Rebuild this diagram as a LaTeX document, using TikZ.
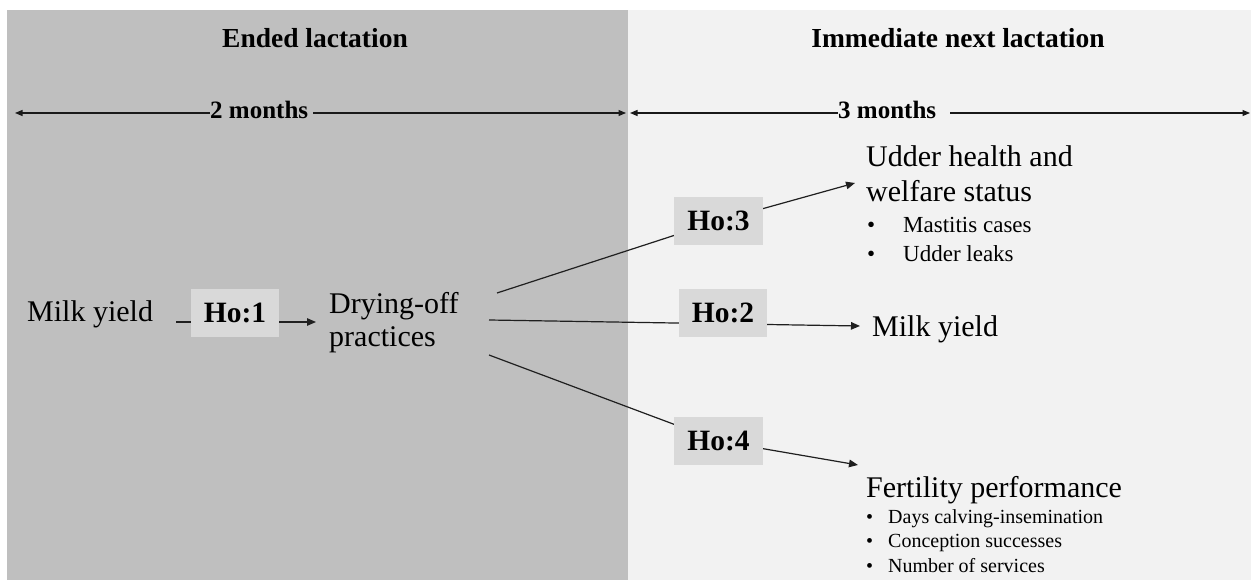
\documentclass[tikz,border=0pt]{standalone}
\usepackage{fontspec}
\setmainfont{Liberation Serif}
\usetikzlibrary{arrows.meta,calc}
\pgfdeclarelayer{bg}
\pgfdeclarelayer{ln}
\pgfsetlayers{bg,ln,main}
\definecolor{panelL}{HTML}{BFBFBF}
\definecolor{panelR}{HTML}{F2F2F2}
\definecolor{hobox}{HTML}{D9D9D9}
\begin{document}
\begin{tikzpicture}[x=1pt,y=-1pt,
  txt/.style={inner sep=0pt, font=\fontsize{30}{35}\selectfont},
  drytxt/.style={inner sep=0pt, font=\fontsize{30}{33}\selectfont},
  hd/.style={inner sep=0pt, font=\bfseries\fontsize{27.5}{30}\selectfont},
  tl/.style={inner sep=0pt, font=\bfseries\fontsize{25}{30}\selectfont},
  ho/.style={fill=hobox, minimum width=88pt, minimum height=48pt, inner sep=0pt, font=\bfseries\fontsize{29.5}{34}\selectfont},
  bulA/.style={inner sep=0pt, font=\fontsize{23}{29}\selectfont},
  bulB/.style={inner sep=0pt, font=\fontsize{20}{24.5}\selectfont},
  conn/.style={line width=1.2pt, draw=black!88},
  arr/.style={conn, -{Triangle[length=9pt,width=7.5pt]}},
  tarr/.style={line width=1.1pt, draw=black!90, -{Triangle[length=7.5pt,width=6pt]}},
]
\useasboundingbox (0,0) rectangle (1251,580);
\begin{pgfonlayer}{bg}
\fill[white] (0,0) rectangle (1251,580);
\fill[panelL] (7,10) rectangle (628,580);
\fill[panelR] (628,10) rectangle (1251,580);
\end{pgfonlayer}

% headers
\node[hd] (h1) at (315,38) {Ended lactation};
\node[hd] (h2) at (958,38) {Immediate next lactation};

% timeline
\node[tl, anchor=base west] (m2) at (210,119) {2 months};
\node[tl, anchor=base west] (m3) at (838,119) {3 months};
\coordinate (tL) at (15,113);
\coordinate (tM1) at (626,113);
\coordinate (tM2) at (630,113);
\coordinate (tR) at (1250,113);
\draw[tarr] (m2.west |- tL) -- (tL);
\draw[tarr] ($(m2.east |- tL)+(5,0)$) -- (tM1);
\draw[tarr] (m3.west |- tL) -- (tM2);
\draw[tarr] ($(m3.east |- tL)+(14,0)$) -- (tR);

% left side
\node[txt, anchor=base west] (my1) at (27,321) {Milk yield};
\node[ho] (ho1) at (235,313) {Ho:1};
\node[drytxt, anchor=base west] (dry) at (329,313) {\begin{tabular}[t]{@{}l@{}}Drying-off\\practices\end{tabular}};

% right side
\node[txt, anchor=base west] (udt) at (866,167) {\begin{tabular}[t]{@{}l@{}}Udder health and\\welfare status\end{tabular}};
\node[bulA, anchor=base west] (udl) at (867,233) {\begin{tabular}[t]{@{}p{36pt}@{}l@{}}\textbullet & Mastitis cases\\ \textbullet & Udder leaks\end{tabular}};
\node[txt, anchor=base west] (my2) at (872,336) {Milk yield};
\node[txt, anchor=base west] (fer) at (866,497) {Fertility performance};
\node[bulB, anchor=base west] (ferl) at (866,523) {\begin{tabular}[t]{@{}p{22pt}@{}l@{}}\textbullet & Days calving-insemination\\ \textbullet & Conception successes\\ \textbullet & Number of services\end{tabular}};

% hypothesis boxes
\node[ho, minimum width=89pt] (ho3) at (718.5,221) {Ho:3};
\node[ho] (ho2) at (723,313) {Ho:2};
\node[ho, minimum width=89pt] (ho4) at (718.5,441) {Ho:4};

% connector end points
\coordinate (d1) at (176,322);
\coordinate (a1) at (316,322);
\coordinate (s3) at (497,293);
\coordinate (e3) at (855,183);
\coordinate (s2) at (489,320);
\coordinate (e2) at (860,326);
\coordinate (s4) at (489,355);
\coordinate (e4) at (858,465);

\begin{pgfonlayer}{ln}
\draw[conn] (d1) -- (ho1.west |- d1);
\draw[arr] (ho1.east |- a1) -- (a1);
\draw[conn] (s3) -- (ho3.center);
\draw[arr] (ho3.center) -- (e3);
\draw[arr] (s2) -- (e2);
\draw[conn] (s4) -- (ho4.center);
\draw[arr] (ho4.center) -- (e4);
\end{pgfonlayer}
\end{tikzpicture}
\end{document}
